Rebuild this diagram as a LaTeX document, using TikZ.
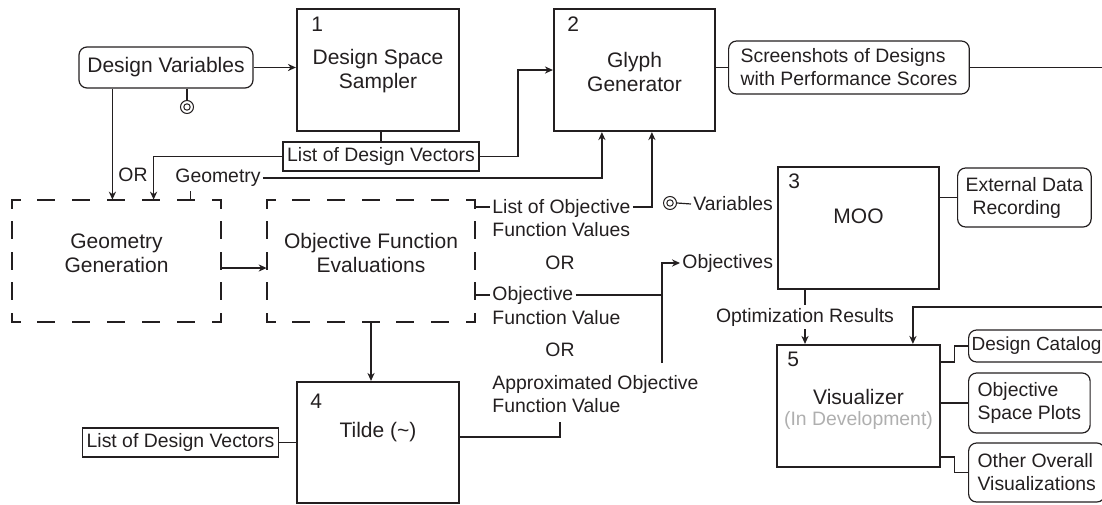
\documentclass[tikz,border=0pt]{standalone}
\usepackage{fontspec}
\setmainfont{Liberation Sans}
\usetikzlibrary{arrows.meta,calc}
\definecolor{ink}{RGB}{35,31,32}
\definecolor{devgray}{RGB}{175,175,175}
\tikzset{
 big/.style={font=\fontsize{10.5}{12}\selectfont, text=ink, align=center, inner sep=1pt},
 small/.style={font=\fontsize{9.7}{11.5}\selectfont, text=ink, inner sep=1pt},
 stepbox/.style={draw=ink, line width=1.1pt, inner sep=0pt},
 dbox/.style={inner sep=0pt},
 dside/.style={draw=ink, line width=1pt, line cap=rect, dash pattern=on 8pt off #1, dash phase=4pt},
 rbox/.style={small, draw=ink, line width=0.6pt, rounded corners=4pt, align=left},
 sbox/.style={small, draw=ink, line width=0.6pt, inner xsep=2pt},
 conn/.style={draw=ink, line width=0.6pt},
 arr/.style={conn, -{Stealth[length=4pt,width=3.6pt]}},
 ring/.style={draw=ink, line width=0.5pt, circle, minimum size=6.5pt, inner sep=0pt,
   path picture={\draw[ink, line width=0.5pt] (path picture bounding box.center) circle (1.6pt);}},
 num/.style={font=\fontsize{10.5}{12}\selectfont, text=ink, anchor=base west, inner sep=0pt},
}
\begin{document}
\begin{tikzpicture}[x=0.5pt,y=-0.5pt]
\useasboundingbox (0,0) rectangle (1102,504);
\clip (0,0) rectangle (1102,504);

% ---------- main boxes ----------
\node[stepbox, minimum width=81pt, minimum height=61pt] (b1) at (378,70) {};
\node[big] (t1) at (378,71) {Design Space\\Sampler};
\node[num] (n1) at ($(b1.north west)+(15,24)$) {1};

\node[stepbox, minimum width=80.5pt, minimum height=61pt] (b2) at (634.5,70) {};
\node[big] (t2) at (634.5,72) {Glyph\\Generator};
\node[num] (n2) at ($(b2.north west)+(14,24)$) {2};

\node[stepbox, minimum width=80.5pt, minimum height=61pt] (b3) at (858.5,228) {};
\node[big] (t3) at (858.5,216) {MOO};
\node[num] (n3) at ($(b3.north west)+(11,23)$) {3};

\node[stepbox, minimum width=81pt, minimum height=60.5pt] (b4) at (378,442.5) {};
\node[big] (t4) at (378,432) {Tilde (\textasciitilde)};
\node[num] (n4) at ($(b4.north west)+(14,28)$) {4};

\node[stepbox, minimum width=81.5pt, minimum height=61pt] (b5) at (858.5,406) {};
\node[big] (t5) at (858.5,397) {Visualizer};
\node[small, text=devgray] (t5b) at (858.5,420) {(In Development)};
\node[num] (n5) at ($(b5.north west)+(11,23)$) {5};

% ---------- dashed boxes ----------
\node[dbox, minimum width=104.5pt, minimum height=61pt] (geo) at (116.5,261) {};
\draw[dside=9.417pt] (geo.north west) -- (geo.north east);
\draw[dside=9.417pt] (geo.south west) -- (geo.south east);
\draw[dside=7.25pt] (geo.north west) -- (geo.south west);
\draw[dside=7.25pt] (geo.north east) -- (geo.south east);
\node[big] (tgeo) at (116.5,253) {Geometry\\Generation};

\node[dbox, minimum width=104pt, minimum height=61pt] (obj) at (371,261) {};
\draw[dside=9.333pt] (obj.north west) -- (obj.north east);
\draw[dside=9.333pt] (obj.south west) -- (obj.south east);
\draw[dside=7.25pt] (obj.north west) -- (obj.south west);
\draw[dside=7.25pt] (obj.north east) -- (obj.south east);
\node[big] (tobj) at (371,253) {Objective Function\\Evaluations};

% ---------- rounded and square boxes ----------
\node[rbox, align=center, font=\fontsize{10.5}{12}\selectfont, inner xsep=4pt,
      minimum width=87pt, minimum height=20.5pt] (dv) at (166,67.5) {Design Variables};
\node[ring] (dc1) at (187,107) {};
\node[rbox, anchor=west, inner xsep=6pt, minimum height=26.5pt] (ss) at (728,67.5)
  {Screenshots of Designs\\with Performance Scores};
\node[rbox, anchor=west, inner xsep=4pt, minimum height=29.5pt] (ext) at (957,197.5)
  {External Data\\\hspace*{3.5pt}Recording};
\node[rbox, anchor=west, inner xsep=1.5pt, minimum height=16pt, font=\fontsize{9.5}{11.5}\selectfont] (cat) at (968,346) {Design Catalog\hspace*{4pt}};
\node[rbox, anchor=west, inner xsep=4.5pt, minimum height=30pt] (osp) at (968,403) {Objective\\Space Plots};
\node[rbox, anchor=west, inner xsep=4.5pt, minimum height=29.5pt] (other) at (968,472.5) {Other Overall\\Visualizations};

\node[sbox, minimum width=98pt, minimum height=14.5pt] (list1) at (381,156.5) {List of Design Vectors};
\node[sbox, minimum width=97.5pt, minimum height=14.5pt] (list2) at (180.5,442.5) {List of Design Vectors};

% ---------- free labels ----------
\node[small] (or1) at (133,174.5) {OR};
\node[small] (geomlbl) at (218,178) {Geometry};
\node[small, anchor=west, align=left] (lofv) at (490,218.5) {List of Objective\\Function Values};
\node[small] (or2) at (560,263) {OR};
\node[small, anchor=west] (ofv1) at (490,295) {Objective};
\node[small, anchor=west] (ofv2) at (490,318) {Function Value};
\node[small] (or3) at (560,350) {OR};
\node[small, anchor=west, align=left] (aofv) at (490,394.5) {Approximated Objective\\Function Value};
\node[small, anchor=west] (vars) at (691,204) {Variables};
\node[ring] (dc2) at (670,203) {};
\node[small, anchor=west] (objs) at (680,263) {Objectives};

\coordinate (r1) at (0,207);
\coordinate (r2) at (0,295);
\coordinate (vbot) at (662,363);
\coordinate (outr) at (1116,307);

% ---------- connectors ----------
\draw[arr] (dv.east) -- (dv.east -| b1.west);
\draw[conn] (dc1 |- dv.south) -- (dc1.north);
\draw[arr] ([xshift=17pt]dv.south west) -- ([xshift=17pt]dv.south west |- geo.north);
\draw[conn] (list1.north) -- (list1.north |- b1.south);
\draw[arr] (list1.east) -| ([xshift=-17.5pt]b2.west) -- (b2.west);
\draw[arr] (list1.west) -| ([xshift=71pt]geo.north west);
\draw[arr] (geomlbl.east) -| ([xshift=24.5pt]b2.south west);
\draw[conn] ([xshift=89.5pt]geo.north west) -- ([xshift=89.5pt,yshift=-1pt]geo.north west |- geomlbl.south);
\draw[arr] ([yshift=-3.5pt]geo.east) -- ([yshift=-3.5pt]obj.west);
\draw[conn] (obj.east |- r1) -- (lofv.west |- r1);
\draw[conn] (obj.east |- r2) -- (ofv1.west);
\draw[arr] (lofv.east |- r1) -| ([xshift=49.5pt]b2.south west);
\draw[conn] (ofv1.east) -- (ofv1.east -| vbot);
\draw[arr] (vbot) |- (objs.west);
\draw[arr] (obj.south) -- (obj.south |- b4.north);
\draw[conn] ([yshift=2.75pt]b4.east) -| ([xshift=35pt,yshift=-3pt]aofv.south west);
\draw[conn] (list2.east) -- (list2.east -| b4.west);
\draw[conn] (ss.west) -- (ss.west -| b2.east);
\draw[arr] (ss.east) -| (outr) -| ([xshift=68.5pt]b5.north west);
\draw[conn] (dc2.east) -- (vars.west);
\draw[conn] (ext.west) -- (ext.west -| b3.east);
\draw[arr] ([xshift=-26.75pt]b3.south) -- ([xshift=-26.75pt]b3.south |- b5.north);
\node[small, fill=white, inner sep=1.5pt] (optres) at (805,317) {Optimization Results};
\draw[conn] ([yshift=22pt]b5.east) -- ++(13,0) |- (cat.west);
\draw[conn] (osp.west) -- (osp.west -| b5.east);
\draw[conn] ([yshift=-25.5pt]b5.east) -- ++(13,0) |- (other.west);
\end{tikzpicture}
\end{document}
